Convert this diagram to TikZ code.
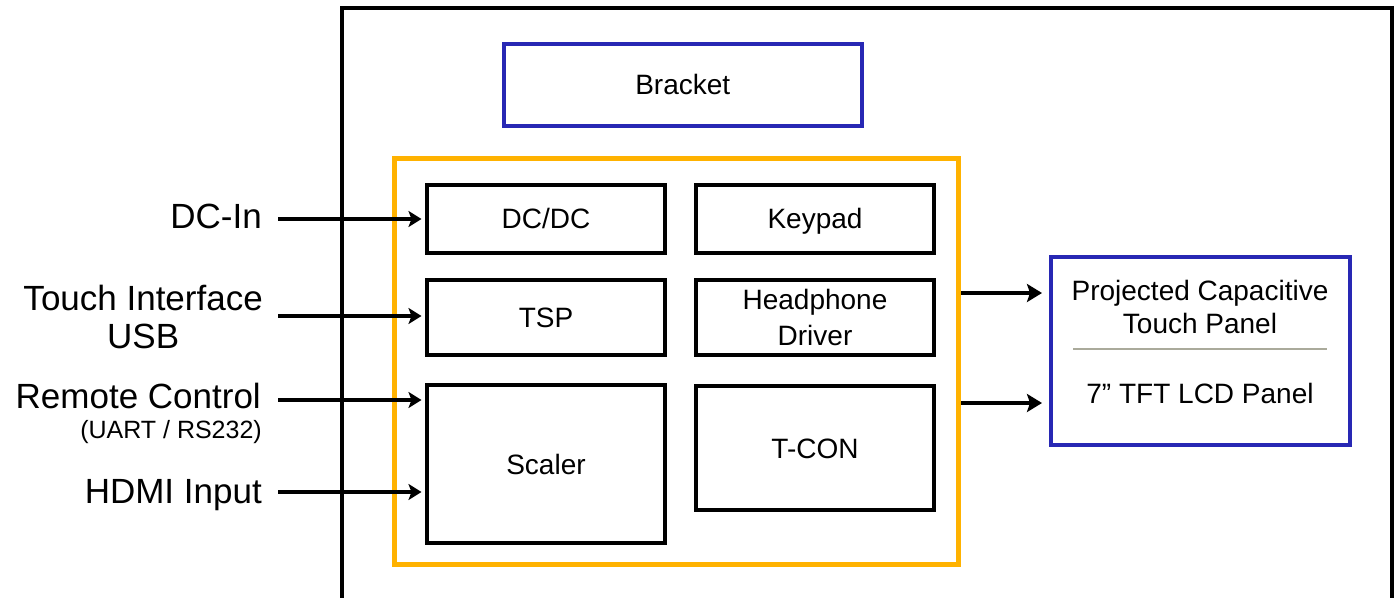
\documentclass[tikz,border=0pt]{standalone}
\usepackage{fontspec}
\setmainfont{Liberation Sans}
\usetikzlibrary{arrows.meta}
\definecolor{myblue}{RGB}{40,40,180}
\definecolor{myorange}{RGB}{255,178,0}
\definecolor{divgray}{RGB}{170,170,155}
\begin{document}
\begin{tikzpicture}[x=1pt,y=-1pt,
  lbl/.style={inner sep=0pt, font=\fontsize{35}{38}\selectfont},
  sublbl/.style={inner sep=0pt, font=\fontsize{25}{30}\selectfont},
  blk/.style={draw=black, line width=4pt, inner sep=0pt, align=center, font=\fontsize{28}{36}\selectfont},
  oneline/.style={text height=20pt, text depth=0pt},
  bluebox/.style={draw=myblue, line width=4pt, inner sep=0pt},
  paneltxt/.style={inner sep=0pt, align=center, font=\fontsize{28}{33}\selectfont},
  inarrow/.style={line width=4.5pt, -{Stealth[length=13pt,width=16pt,inset=3pt]}, shorten >=3.5pt},
  outarrow/.style={line width=3.5pt, -{Stealth[length=15pt,width=18pt,inset=3pt]}, shorten >=7pt}
]
\useasboundingbox (0,0) rectangle (1400,597);

% outer frame
\draw[line width=4pt] (342,602) -- (342,7.5) -- (1391.5,7.5) -- (1391.5,602);

% bracket
\node[bluebox, minimum width=358.5pt, minimum height=81.5pt, font=\fontsize{28}{34}\selectfont, oneline] (bracket) at (682.75,84.75) {Bracket};

% board
\node[draw=myorange, line width=5pt, inner sep=0pt, minimum width=564.5pt, minimum height=406.5pt] (board) at (676.25,361.25) {};

% blocks
\node[blk, oneline, minimum width=238pt, minimum height=68.5pt] (dcdc) at (546,218.75) {DC/DC};
\node[blk, oneline, minimum width=238pt, minimum height=68.5pt] (keypad) at (815,218.75) {Keypad};
\node[blk, oneline, minimum width=238pt, minimum height=75.5pt] (tsp) at (546,317.25) {TSP};
\node[blk, minimum width=238pt, minimum height=75.5pt] (hp) at (815,317.25) {Headphone\\Driver};
\node[blk, oneline, minimum width=238pt, minimum height=158pt] (scaler) at (546,464) {Scaler};
\node[blk, oneline, minimum width=238pt, minimum height=124pt] (tcon) at (815,448) {T-CON};

% panel
\node[bluebox, minimum width=298.5pt, minimum height=187.5pt] (panel) at (1200.25,350.75) {};
\node[paneltxt] (pct) at (1200,306.5) {Projected Capacitive\\Touch Panel};
\draw[divgray, line width=2pt] (1073,349) -- (1327,349);
\node[paneltxt, text height=20pt, text depth=0pt] (lcd) at (1200,393.5) {7” TFT LCD Panel};

% left labels
\node[lbl, anchor=base east] (dcin) at (262,228) {DC-In};
\node[lbl, align=center, anchor=east] (touch) at (263,317) {Touch Interface\\USB};
\node[lbl, anchor=base east] (remote) at (261,408) {Remote Control};
\node[sublbl, anchor=base east] (uart) at (262,438) {(UART / RS232)};
\node[lbl, anchor=base east] (hdmi) at (262,503) {HDMI Input};

% arrow starts
\coordinate (s1) at (278,219);
\coordinate (s2) at (278,316);
\coordinate (s3) at (278,400);
\coordinate (s4) at (278,492);

\draw[inarrow] (s1) -- (s1 -| dcdc.west);
\draw[inarrow] (s2) -- (s2 -| tsp.west);
\draw[inarrow] (s3) -- (s3 -| scaler.west);
\draw[inarrow] (s4) -- (s4 -| scaler.west);

% output arrows
\coordinate (o1) at (961,293);
\coordinate (o2) at (961,403);
\draw[outarrow] (o1 -| board.east) -- (o1 -| panel.west);
\draw[outarrow] (o2 -| board.east) -- (o2 -| panel.west);
\end{tikzpicture}
\end{document}
